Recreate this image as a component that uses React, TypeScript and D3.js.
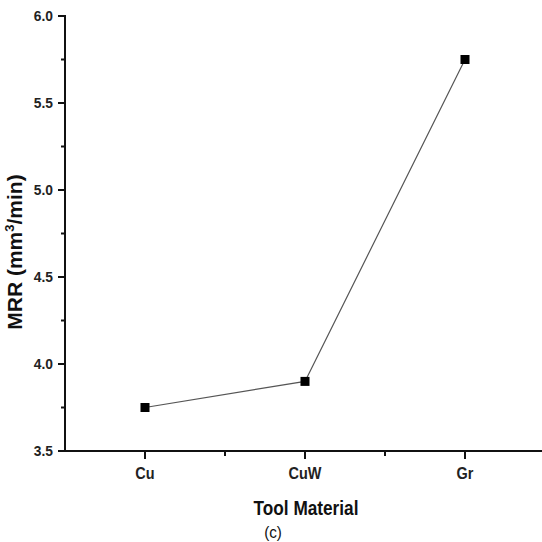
import React, { useEffect, useRef } from 'react';
import * as d3 from 'd3';

const materials = ['Cu', 'CuW', 'Gr'];
const mrr = [3.75, 3.9, 5.75];
const yTicks = [3.5, 4.0, 4.5, 5.0, 5.5, 6.0];
const yMinor = [3.75, 4.25, 4.75, 5.25, 5.75];
const xMinor = [0.5, 1.5];

const FONT = '"Liberation Sans", Arial, sans-serif';

const App = () => {
  const ref = useRef<SVGSVGElement>(null);

  useEffect(() => {
    const svg = d3.select(ref.current);
    svg.selectAll('*').remove();

    const width = 542, height = 542;
    const x = d3.scaleLinear().domain([-0.5, 2.5]).range([65, 545]);
    const y = d3.scaleLinear().domain([3.5, 6.0]).range([451, 16]);

    svg.attr('width', width).attr('height', height);
    svg.append('rect').attr('width', width).attr('height', height).attr('fill', '#fff');

    // y axis
    const yAxis = svg.append('g').attr('transform', `translate(${x(-0.5)},0)`);
    yAxis.append('line').attr('y1', y(6.0) - 1).attr('y2', y(3.5) + 1)
      .attr('stroke', '#111').attr('stroke-width', 2);
    yAxis.selectAll('line.major').data(yTicks).join('line').attr('class', 'major')
      .attr('x1', -7).attr('x2', 0).attr('y1', d => y(d)).attr('y2', d => y(d))
      .attr('stroke', '#111').attr('stroke-width', 2);
    yAxis.selectAll('line.minor').data(yMinor).join('line').attr('class', 'minor')
      .attr('x1', -4).attr('x2', 0).attr('y1', d => y(d)).attr('y2', d => y(d))
      .attr('stroke', '#111').attr('stroke-width', 2);
    yAxis.selectAll('text').data(yTicks).join('text')
      .attr('transform', d => `translate(-12,${y(d)}) scale(0.92,1)`).attr('dy', '0.36em')
      .attr('text-anchor', 'end').attr('font-family', FONT).attr('font-weight', 'bold')
      .attr('font-size', 15).attr('fill', '#222').text(d => d.toFixed(1));

    // x axis
    const xAxis = svg.append('g').attr('transform', `translate(0,${y(3.5)})`);
    xAxis.append('line').attr('x1', x(-0.5) - 1).attr('x2', x(2.5))
      .attr('stroke', '#111').attr('stroke-width', 2);
    xAxis.selectAll('line.major').data(materials).join('line').attr('class', 'major')
      .attr('x1', (d, i) => x(i)).attr('x2', (d, i) => x(i)).attr('y1', 0).attr('y2', 8)
      .attr('stroke', '#111').attr('stroke-width', 2);
    xAxis.selectAll('line.minor').data(xMinor).join('line').attr('class', 'minor')
      .attr('x1', d => x(d)).attr('x2', d => x(d)).attr('y1', 0).attr('y2', 5)
      .attr('stroke', '#111').attr('stroke-width', 2);
    xAxis.selectAll('text').data(materials).join('text')
      .attr('transform', (d, i) => `translate(${x(i)},28) scale(0.85,1)`)
      .attr('text-anchor', 'middle').attr('font-family', FONT).attr('font-weight', 'bold')
      .attr('font-size', 17).attr('fill', '#222').text(d => d);

    // axis titles
    svg.append('text')
      .attr('transform', `translate(22,252) rotate(-90)`)
      .attr('text-anchor', 'middle').attr('font-family', FONT).attr('font-weight', 'bold')
      .attr('font-size', 21).attr('fill', '#111')
      .call(t => {
        t.append('tspan').text('MRR (mm');
        t.append('tspan').attr('font-size', 13).attr('dy', -8).text('3');
        t.append('tspan').attr('dy', 8).text('/min)');
      });
    svg.append('text').attr('transform', 'translate(306,515) scale(0.82,1)')
      .attr('text-anchor', 'middle').attr('font-family', FONT).attr('font-weight', 'bold')
      .attr('font-size', 21).attr('fill', '#111').text('Tool Material');
    svg.append('text').attr('transform', 'translate(273,538) scale(0.95,1)')
      .attr('text-anchor', 'middle').attr('font-family', FONT)
      .attr('font-size', 16).attr('fill', '#111').text('(c)');

    // series
    const line = d3.line<number>().x((d, i) => x(i)).y(d => y(d));
    svg.append('path').datum(mrr).attr('d', line)
      .attr('fill', 'none').attr('stroke', '#555').attr('stroke-width', 1.2);
    svg.selectAll('rect.pt').data(mrr).join('rect').attr('class', 'pt')
      .attr('x', (d, i) => x(i) - 4.5).attr('y', d => y(d) - 4.5)
      .attr('width', 9).attr('height', 9).attr('fill', '#000');
  }, []);

  return <svg ref={ref} style={{ position: 'absolute', left: 0, top: 0 }}></svg>;
};

export default App;
